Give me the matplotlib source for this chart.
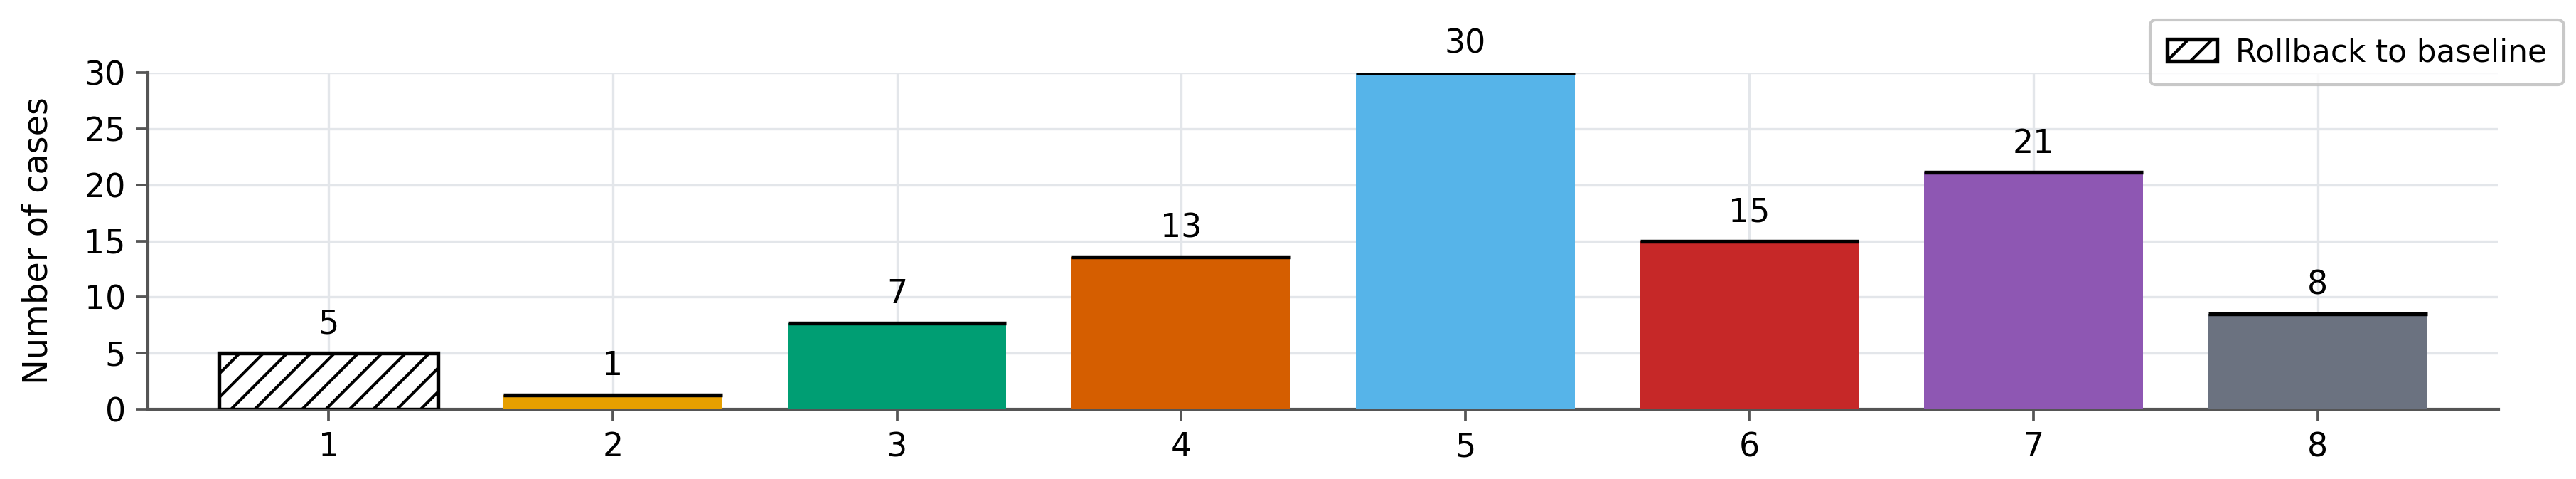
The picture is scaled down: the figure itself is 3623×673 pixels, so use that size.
import numpy as np
import matplotlib.pyplot as plt
from matplotlib.patches import Patch

# ─── data ──────────────────────────────────────────────────────────────────────
categories = [1, 2, 3, 4, 5, 6, 7, 8]
heights    = [5, 1.3, 7.7, 13.6, 30, 15, 21.1, 8.5]
labels     = ["5", "1", "7", "13", "30", "15", "21", "8"]
colors     = ["white", "#E69F00", "#009E73", "#D55E00", "#56B4E9",
              "#C62828", "#8E57B3", "#6B7280"]
legend_lbl = "Rollback to baseline"
# ────────────────────────────────────────────────────────────────────────────────

plt.rcParams["font.family"] = "DejaVu Sans"
plt.rcParams["font.size"] = 11
plt.rcParams["hatch.linewidth"] = 1.0

fig = plt.figure(figsize=(3623 / 300, 673 / 300), dpi=300)
ax = fig.add_axes([208 / 3623, 1 - 575 / 673, (3514 - 208) / 3623, (575 - 102) / 673])

width = 0.77
x = np.array(categories, dtype=float)
for xi, h, c in zip(x, heights, colors):
    if c == "white":
        ax.bar(xi, h, width=width, color="white", edgecolor="black",
               hatch="///", linewidth=1.3, zorder=3)
    else:
        ax.bar(xi, h, width=width, color=c, linewidth=0, zorder=3)
        ax.hlines(h, xi - width / 2, xi + width / 2, color="black",
                  linewidth=1.3, zorder=4)

for xi, h, t in zip(x, heights, labels):
    ax.text(xi, h + 1.1, t, ha="center", va="bottom", fontsize=11, clip_on=False)

ax.set_xlim(0.364, 8.636)
ax.set_ylim(0, 30)
ax.set_xticks(categories)
ax.set_yticks([0, 5, 10, 15, 20, 25, 30])
ax.tick_params(labelsize=11)
ax.set_ylabel("Number of cases", fontsize=11.5, labelpad=10)

ax.grid(True, color="#e3e6ea", linewidth=0.8, zorder=0)
ax.set_axisbelow(True)
for s in ["top", "right"]:
    ax.spines[s].set_visible(False)
for s in ["left", "bottom"]:
    ax.spines[s].set_color("#555555")
    ax.spines[s].set_linewidth(1.0)
ax.tick_params(colors="#555555", labelcolor="black", length=4, width=0.9)

handle = Patch(facecolor="white", edgecolor="black", hatch="///", linewidth=1.3)
fig.legend([handle], [legend_lbl], loc="upper right",
           bbox_to_anchor=(3606 / 3623, 1 - 28 / 673), fontsize=10.5,
           frameon=True, edgecolor="#bbbbbb", fancybox=True,
           handlelength=1.6, handletextpad=0.6, borderpad=0.55,
           borderaxespad=0)

fig.savefig("out.png", dpi=300, facecolor="white")
